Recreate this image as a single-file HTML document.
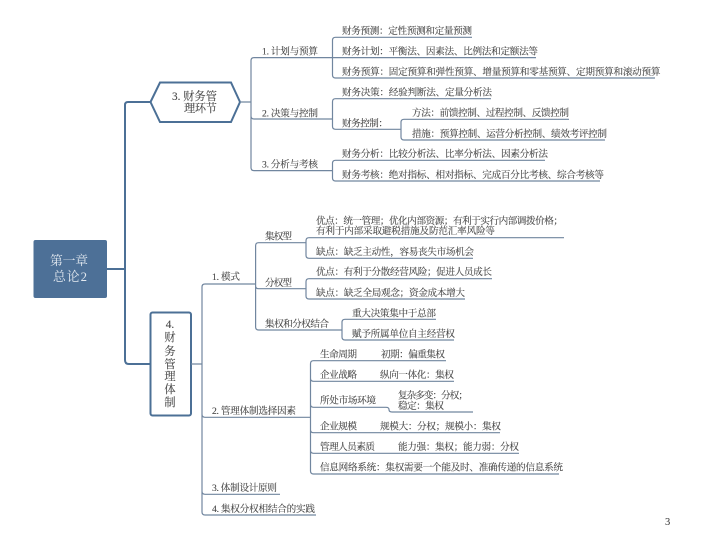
<!DOCTYPE html>
<html lang="zh"><head><meta charset="utf-8"><title>第一章 总论2</title>
<style>
html,body{margin:0;padding:0;background:#fff;width:720px;height:537px;overflow:hidden}
svg{display:block;filter:blur(.25px)}
text{font-family:"Liberation Serif","Noto Serif CJK SC",serif;font-size:9.6px;fill:#484848;stroke:#484848;stroke-width:.12px}
.l{fill:none;stroke:#71869f;stroke-width:1.2}
.m{fill:none;stroke:#4c7096;stroke-width:2}
</style></head><body>
<svg width="720" height="537" viewBox="0 0 720 537" xmlns="http://www.w3.org/2000/svg">
<rect width="720" height="537" fill="#fff"/>
<path class="m" d="M107 269H125M150 102H128Q125 102 125 105V360Q125 364 129 364H150"/>
<rect x="33.5" y="240" width="73.5" height="58" rx="2" fill="#4d7097"/>
<text x="50" y="265" style="font-size:12.8px;fill:#e3e9f0;stroke:none" textLength="38">第一章</text>
<text x="53" y="281" style="font-size:12.8px;fill:#e3e9f0;stroke:none" textLength="34">总论2</text>
<path d="M150.5 102L160 82.5H231L240 102L231 122H160Z" fill="#fff" stroke="#4c7096" stroke-width="2"/>
<text x="172" y="100" style="font-size:11.2px" textLength="45">3. 财务管</text>
<text x="184" y="112" style="font-size:11.2px" textLength="33">理环节</text>
<rect x="150.5" y="312.5" width="40.5" height="103" rx="2" fill="#fff" stroke="#4c7096" stroke-width="2"/>
<g text-anchor="middle">
<text x="170" y="328" style="font-size:11.2px">4.</text>
<text x="170" y="341" style="font-size:11.2px">财</text>
<text x="170" y="355" style="font-size:11.2px">务</text>
<text x="170" y="368" style="font-size:11.2px">管</text>
<text x="170" y="380" style="font-size:11.2px">理</text>
<text x="170" y="393" style="font-size:11.2px">体</text>
<text x="170" y="406" style="font-size:11.2px">制</text>
</g>

<!-- upper connectors -->
<path class="l" d="M240 102H251M332 57.6H254Q251 57.6 251 60.6V167.6Q251 170.6 254 170.6H332M251 116Q251 119 254 119H332"/>
<path class="l" d="M472 37.3H335.5Q332.5 37.3 332.5 40.3V75Q332.5 78 335.5 78H655M332.5 57.6H536"/>
<path class="l" d="M491 98.7H335.5Q332.5 98.7 332.5 101.7V126.3Q332.5 129.3 335.5 129.3H401M569 119.3H404Q401 119.3 401 122.3V137Q401 140 404 140H605"/>
<path class="l" d="M545 160.3H335.5Q332.5 160.3 332.5 163.3V178Q332.5 181 335.5 181H600"/>
<text x="262" y="54.5" textLength="56">1. 计划与预算</text>
<text x="262" y="116.5" textLength="56">2. 决策与控制</text>
<text x="262" y="167.5" textLength="56">3. 分析与考核</text>
<text x="342" y="34" textLength="130">财务预测：定性预测和定量预测</text>
<text x="342" y="54.5" textLength="196">财务计划：平衡法、因素法、比例法和定额法等</text>
<text x="342" y="75" textLength="318.5">财务预算：固定预算和弹性预算、增量预算和零基预算、定期预算和滚动预算</text>
<text x="342" y="95.5" textLength="150">财务决策：经验判断法、定量分析法</text>
<text x="342" y="126.5" textLength="46">财务控制：</text>
<text x="412" y="116" textLength="157">方法：前馈控制、过程控制、反馈控制</text>
<text x="412" y="137" textLength="195">措施：预算控制、运营分析控制、绩效考评控制</text>
<text x="342" y="157" textLength="206">财务分析：比较分析法、比率分析法、因素分析法</text>
<text x="342" y="178" textLength="262">财务考核：绝对指标、相对指标、完成百分比考核、综合考核等</text>

<!-- lower connectors -->
<path class="l" d="M191 364H202M255.6 284H205Q202 284 202 287V512Q202 515 205 515H316M202 414.3Q202 417.3 205 417.3H310M202 491.3Q202 494.3 205 494.3H280"/>
<path class="l" d="M306 242.7H258.6Q255.6 242.7 255.6 245.7V327Q255.6 330 258.6 330H342M255.6 285.7Q255.6 288.7 258.6 288.7H306"/>
<path class="l" d="M564 237.7H309Q306 237.7 306 240.7V255.3Q306 258.3 309 258.3H473"/>
<path class="l" d="M492 278.7H309Q306 278.7 306 281.7V296Q306 299 309 299H465"/>
<path class="l" d="M436 319.3H345Q342 319.3 342 322.3V337Q342 340 345 340H454"/>
<path class="l" d="M446 360.7H313.5Q310.5 360.7 310.5 363.7V471Q310.5 474 313.5 474H559M310.5 378.3Q310.5 381.3 313.5 381.3H454M310.5 404.3Q310.5 407.3 313.5 407.3H386Q389 407.3 389 409.5Q389 412 392 412H473M310.5 429.7Q310.5 432.7 313.5 432.7H500M310.5 450.3Q310.5 453.3 313.5 453.3H519"/>
<text x="212" y="280" textLength="28">1. 模式</text>
<text x="265" y="239.5" textLength="27">集权型</text>
<text x="265" y="286" textLength="27">分权型</text>
<text x="265" y="327" textLength="64">集权和分权结合</text>
<text x="316" y="224" textLength="247">优点：统一管理；优化内部资源；有利于实行内部调拨价格；</text>
<text x="316" y="234" textLength="179">有利于内部采取避税措施及防范汇率风险等</text>
<text x="316" y="255" textLength="158">缺点：缺乏主动性，容易丧失市场机会</text>
<text x="316" y="275" textLength="176">优点：有利于分散经营风险；促进人员成长</text>
<text x="316" y="296" textLength="149">缺点：缺乏全局观念；资金成本增大</text>
<text x="352" y="316.5" textLength="84">重大决策集中于总部</text>
<text x="352" y="337" textLength="103">赋予所属单位自主经营权</text>
<text x="212" y="414" textLength="84">2. 管理体制选择因素</text>
<text x="320" y="357.5" textLength="37">生命周期</text>
<text x="381" y="357.5" textLength="64">初期：偏重集权</text>
<text x="320" y="378" textLength="37">企业战略</text>
<text x="380" y="378" textLength="74">纵向一体化：集权</text>
<text x="320" y="403.5" textLength="56">所处市场环境</text>
<text x="398" y="398.5" textLength="70">复杂多变：分权；</text>
<text x="398" y="409" textLength="46">稳定：集权</text>
<text x="320" y="429.5" textLength="37">企业规模</text>
<text x="380" y="429.5" textLength="121">规模大：分权；规模小：集权</text>
<text x="320" y="450" textLength="55">管理人员素质</text>
<text x="398" y="450" textLength="121">能力强：集权；能力弱：分权</text>
<text x="320" y="470.5" textLength="243">信息网络系统：集权需要一个能及时、准确传递的信息系统</text>
<text x="212" y="491" textLength="65">3. 体制设计原则</text>
<text x="212" y="512" textLength="103">4. 集权分权相结合的实践</text>
<text x="665" y="525" style="font-size:10.5px">3</text>
</svg>
</body></html>
